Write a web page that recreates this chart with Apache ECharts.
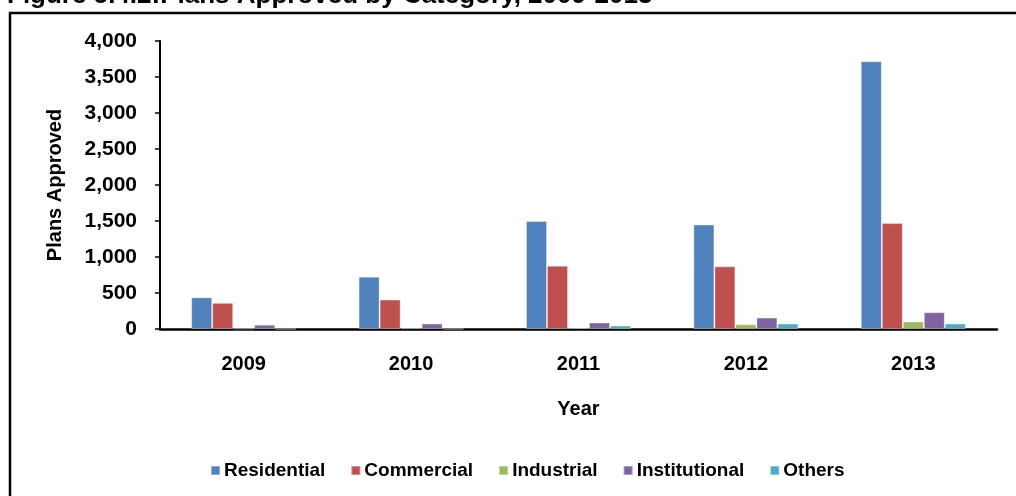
<!DOCTYPE html>
<html>
<head>
<meta charset="utf-8">
<script src="https://cdn.jsdelivr.net/npm/echarts@6/dist/echarts.min.js"></script>
<style>
  html, body { margin: 0; padding: 0; background: #fff; }
  #chart { width: 1016px; height: 496px; }
</style>
</head>
<body>
<div id="chart"></div>
<script>
// Plans approved per year, split by building category
const years = ['2009', '2010', '2011', '2012', '2013'];
const residential = [440, 727, 1499, 1451, 3719];
const commercial = [363, 409, 879, 870, 1471];
const industrial = [5, 12, 18, 66, 104];
const institutional = [60, 76, 90, 159, 233];
const others = [0, 0, 48, 76, 76];
const yTicks = { min: 0, max: 4000, interval: 500 };

const FONT = 'Liberation Sans, Arial, sans-serif';
const chart = echarts.init(document.getElementById('chart'), null, { renderer: 'canvas' });

function bar(name, data, color) {
  return {
    name: name,
    type: 'bar',
    data: data,
    barWidth: 21,
    barGap: '0%',
    itemStyle: { color: color, borderColor: 'rgba(255,255,255,0.35)', borderWidth: 1 },
    emphasis: { disabled: true }
  };
}

chart.setOption({
  animation: false,
  backgroundColor: '#fff',
  textStyle: { fontFamily: FONT },
  grid: { left: 160, right: 19, top: 41, bottom: 167 },
  graphic: [
    {
      type: 'rect',
      shape: { x: 10, y: 13, width: 1030, height: 520 },
      style: { fill: 'none', stroke: '#000', lineWidth: 2.5 },
      silent: true
    },
    {
      type: 'text',
      left: 7, top: -17,
      style: {
        text: 'Figure 5.4.2:Plans Approved by Category, 2009-2013',
        font: 'bold 26px ' + FONT,
        fill: '#000'
      },
      silent: true
    }
  ],
  legend: {
    left: 205, top: 456,
    itemWidth: 9, itemHeight: 9, itemGap: 25,
    icon: 'rect',
    textStyle: { fontFamily: FONT, fontWeight: 'bold', fontSize: 19, color: '#000', padding: [0, 0, 0, -1] },
    selectedMode: false
  },
  xAxis: {
    type: 'category',
    data: years,
    name: 'Year',
    nameLocation: 'middle',
    nameGap: 70,
    nameTextStyle: { fontFamily: FONT, fontWeight: 'bold', fontSize: 20, color: '#000' },
    axisLine: { lineStyle: { color: '#000', width: 2.5 } },
    axisTick: { show: false },
    axisLabel: { fontFamily: FONT, fontWeight: 'bold', fontSize: 20, color: '#000', margin: 25 }
  },
  yAxis: {
    type: 'value',
    min: yTicks.min, max: yTicks.max, interval: yTicks.interval,
    name: 'Plans Approved',
    nameLocation: 'middle',
    nameGap: 95,
    nameTextStyle: { fontFamily: FONT, fontWeight: 'bold', fontSize: 20, color: '#000' },
    axisLine: { show: true, lineStyle: { color: '#000', width: 2 } },
    axisTick: { show: true, length: 5, lineStyle: { color: '#000', width: 1.5 } },
    splitLine: { show: false },
    axisLabel: {
      fontFamily: FONT, fontWeight: 'bold', fontSize: 21, color: '#000', margin: 23,
      formatter: v => v.toLocaleString('en-US')
    }
  },
  series: [
    bar('Residential', residential, '#4F81BD'),
    bar('Commercial', commercial, '#C0504D'),
    bar('Industrial', industrial, '#9BBB59'),
    bar('Institutional', institutional, '#8064A2'),
    bar('Others', others, '#4BACC6')
  ]
});
</script>
</body>
</html>
